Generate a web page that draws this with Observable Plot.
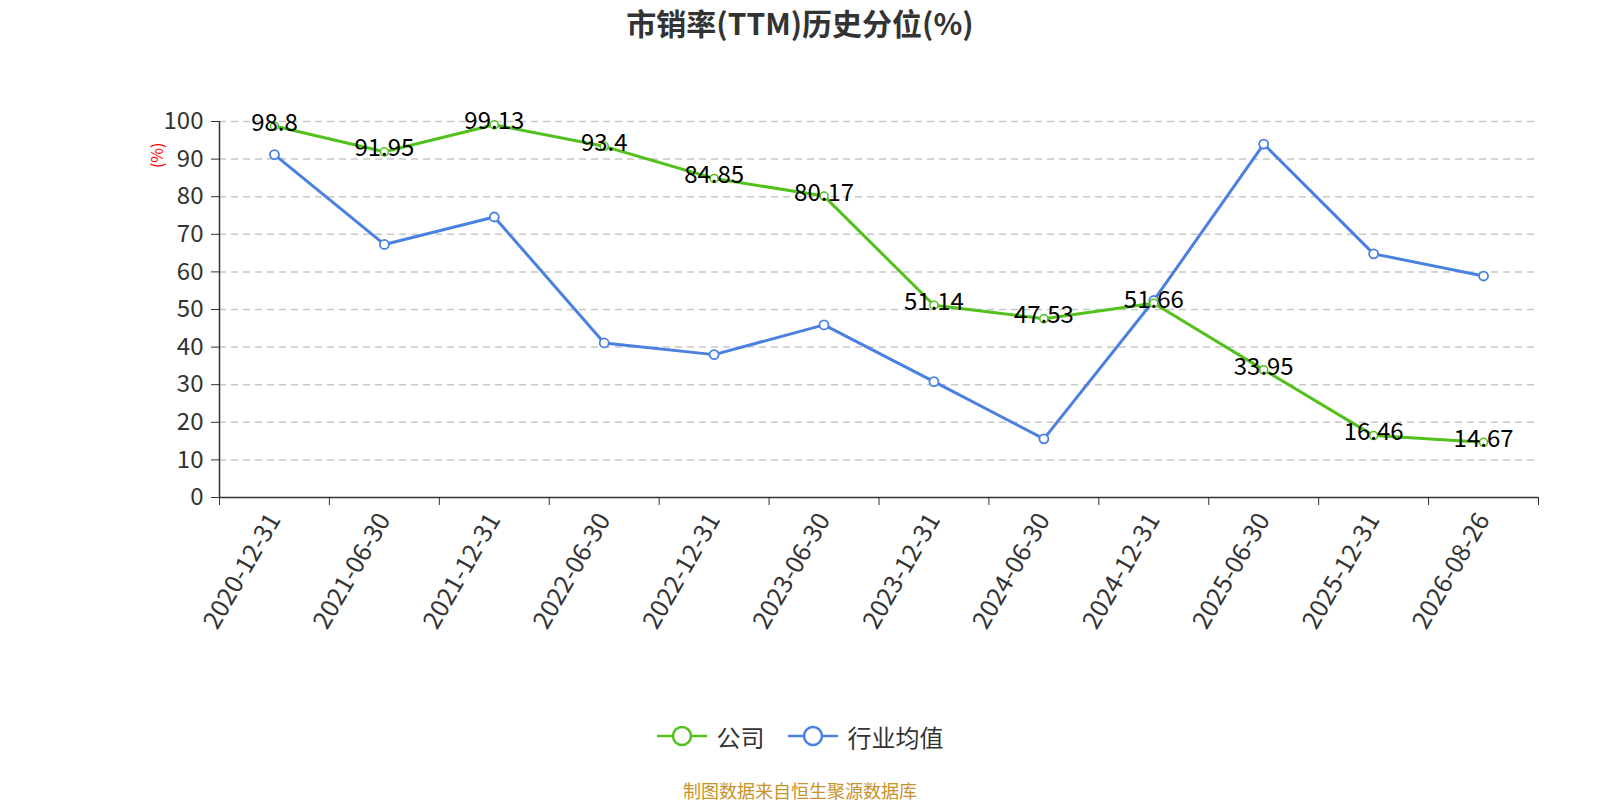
<!DOCTYPE html>
<html><head><meta charset="utf-8">
<script src="https://cdn.jsdelivr.net/npm/d3@7"></script>
<script src="https://cdn.jsdelivr.net/npm/@observablehq/plot@0.6"></script>
<style>
body{margin:0;background:#fff;font-family:"Noto Sans CJK SC","Noto Sans",sans-serif;}
#wrap{width:1600px;position:relative;}
#title{height:50px;line-height:44px;text-align:center;font-size:30px;font-weight:bold;color:#333;}
#chart{height:640px;}
#legend{display:flex;justify-content:center;align-items:center;gap:23px;margin-top:26px;height:40px;font-size:24px;color:#333;}
.li{display:flex;align-items:center;gap:10px;}
#src{text-align:center;font-size:18px;line-height:24px;color:#c8922a;margin-top:22px;}
</style></head>
<body><div id="wrap">
<div id="title">市销率(TTM)历史分位(%)</div>
<div id="chart"></div>
<div id="legend"></div>
<div id="src">制图数据来自恒生聚源数据库</div>
</div>
<script>
const dates = ["2020-12-31","2021-06-30","2021-12-31","2022-06-30","2022-12-31","2023-06-30","2023-12-31","2024-06-30","2024-12-31","2025-06-30","2025-12-31","2026-08-26"];
const company = [98.8,91.95,99.13,93.4,84.85,80.17,51.14,47.53,51.66,33.95,16.46,14.67];
const industry = [91.2,67.3,74.6,41.1,38.0,45.9,30.8,15.6,52.4,94.0,64.8,58.9];
const yTicks = [0,10,20,30,40,50,60,70,80,90,100];
const seriesNames = ["公司","行业均值"];
const green = "#52c11c", blue = "#4a80e0";

const idx = (d,i)=>i;
const chart = Plot.plot({
  width:1600, height:640,
  marginLeft:219, marginRight:62, marginTop:71, marginBottom:193,
  style:{fontFamily:'"Noto Sans CJK SC","Noto Sans",sans-serif', fontSize:"24px", color:"#333", background:"white", overflow:"visible"},
  x:{type:"linear", domain:[-0.5,11.5]},
  y:{domain:[0,100]},
  marks:[
    Plot.ruleY(yTicks.filter(v=>v>0), {stroke:"#c8c8c8", strokeDasharray:"7,5", strokeWidth:1.5}),
    Plot.axisY({ticks:yTicks, tickSize:8, tickPadding:8, label:null, fontSize:24, stroke:"#333"}),
    Plot.ruleX([-0.5], {stroke:"#333", strokeWidth:1.5}),
    Plot.ruleY([0], {stroke:"#333", strokeWidth:1.5}),
    Plot.axisX({ticks:d3.range(12), tickSize:0, tickPadding:18, tickFormat:i=>dates[i], tickRotate:-60, label:null, fontSize:25}),
    Plot.axisX({ticks:d3.range(-0.5,12,1), tickSize:8, tickFormat:()=>"", label:null, stroke:"#333"}),
    Plot.text(["(%)"], {x:-0.5, y:91, text:d=>d, dx:-62, rotate:-90, fill:"red", fontSize:16}),
    Plot.line(industry, {x:idx, y:d=>d, stroke:blue, strokeWidth:3}),
    Plot.dot(industry, {x:idx, y:d=>d, r:4.5, fill:"white", stroke:blue, strokeWidth:1.8}),
    Plot.line(company, {x:idx, y:d=>d, stroke:green, strokeWidth:3}),
    Plot.dot(company, {x:idx, y:d=>d, r:4, fill:"white", stroke:green, strokeWidth:1.5}),
    Plot.text(company, {x:idx, y:d=>d, text:d=>String(d), fill:"black", fontSize:24, dy:-3})
  ]
});
document.getElementById("chart").appendChild(chart);

const legend = document.getElementById("legend");
[[seriesNames[0],green],[seriesNames[1],blue]].forEach(([n,c])=>{
  const el = document.createElement("div"); el.className="li";
  el.innerHTML = `<svg width="50" height="24"><line x1="0" y1="12" x2="50" y2="12" stroke="${c}" stroke-width="2.5"/><circle cx="25" cy="12" r="9" fill="white" stroke="${c}" stroke-width="2.5"/></svg><span>${n}</span>`;
  legend.appendChild(el);
});
</script>
</body></html>
